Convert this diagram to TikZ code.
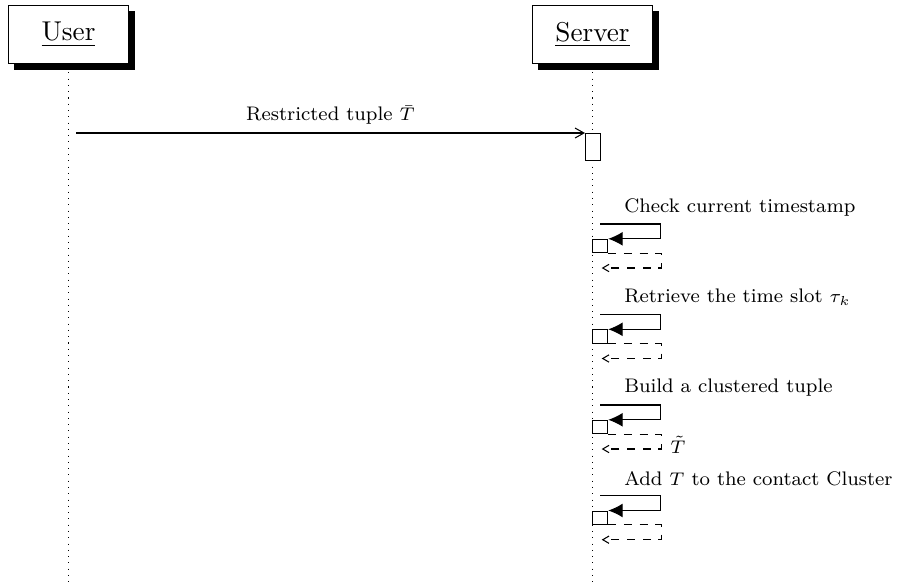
\documentclass[tikz,border=0pt]{standalone}
\usepackage{amsmath}
\usetikzlibrary{arrows.meta,shadows}

\tikzset{
  thread/.style={draw, fill=white, minimum width=46.2pt, minimum height=22.5pt,
    font=\fontsize{10.4}{12}\selectfont,
    drop shadow={shadow xshift=2.3pt, shadow yshift=-2.3pt, fill=black, opacity=1}},
  lifeline/.style={dotted},
  actbox/.style={draw, fill=white, inner sep=0pt, minimum width=5.7pt, minimum height=10.3pt},
  callbox/.style={draw, fill=white, inner sep=0pt, minimum width=5.9pt, minimum height=5.1pt},
  msg/.style={font=\fontsize{7.5}{9}\selectfont},
  call/.style={-{Latex[length=5.5pt,width=5.3pt]}},
  back/.style={dashed, -{Straight Barb[length=2.4pt,width=2.8pt]}}
}

\begin{document}
\begin{tikzpicture}[x=0.382pt, y=-0.382pt]
  \useasboundingbox (0, 0) rectangle (898, 585);

  % threads
  \node[thread] (user) at (68.5, 34.5) {\underline{User}};
  \node[thread] (server) at (592.5, 34.5) {\underline{Server}};
  \coordinate (userend) at (68.5, 585);
  \coordinate (serverend) at (592.5, 585);
  \draw[lifeline] ([yshift=-3pt]user.south) -- (userend);
  \draw[lifeline] ([yshift=-3pt]server.south) -- (serverend);

  % restricted tuple
  \coordinate (m0) at (76, 133);
  \node[actbox, anchor=north west] (act) at (585, 133) {};
  \draw[-{Straight Barb[length=3.4pt,width=3.8pt]}] (m0) -- (act.north west);
  \node[msg] (l0) at (330.5, 115) {Restricted tuple $\bar{T}$};

  % check current timestamp
  \coordinate (s1) at (600, 224);
  \coordinate (r1) at (601.7, 268);
  \node[callbox] (c1) at (600, 246) {};
  \node[msg, anchor=west] (l1) at (615, 207) {Check current timestamp};
  \draw[call] (s1) -- ++(60.7, 0) |- (c1.north east);
  \draw[back] (c1.south east) -- ++(53, 0) |- (r1);

  % retrieve the time slot
  \coordinate (s2) at (600, 314.5);
  \coordinate (r2) at (601.7, 358.5);
  \node[callbox] (c2) at (600, 336.5) {};
  \node[msg, anchor=west] (l2) at (615, 297.5) {Retrieve the time slot $\tau_k$};
  \draw[call] (s2) -- ++(60.7, 0) |- (c2.north east);
  \draw[back] (c2.south east) -- ++(53, 0) |- (r2);

  % build a clustered tuple
  \coordinate (s3) at (600, 405);
  \coordinate (r3) at (601.7, 449);
  \node[callbox] (c3) at (600, 427) {};
  \node[msg, anchor=west] (l3) at (615, 388) {Build a clustered tuple};
  \draw[call] (s3) -- ++(60.7, 0) |- (c3.north east);
  \draw[back] (c3.south east) -- ++(53, 0) |- (r3);
  \node[msg, anchor=west] (t3) at (661, 445) {$\tilde{T}$};

  % add to the contact cluster
  \coordinate (s4) at (600, 495.7);
  \coordinate (r4) at (601.7, 539.7);
  \node[callbox] (c4) at (600, 517.7) {};
  \node[msg, anchor=west] (l4) at (615, 478.7) {Add $T$ to the contact Cluster};
  \draw[call] (s4) -- ++(60.7, 0) |- (c4.north east);
  \draw[back] (c4.south east) -- ++(53, 0) |- (r4);
\end{tikzpicture}
\end{document}
